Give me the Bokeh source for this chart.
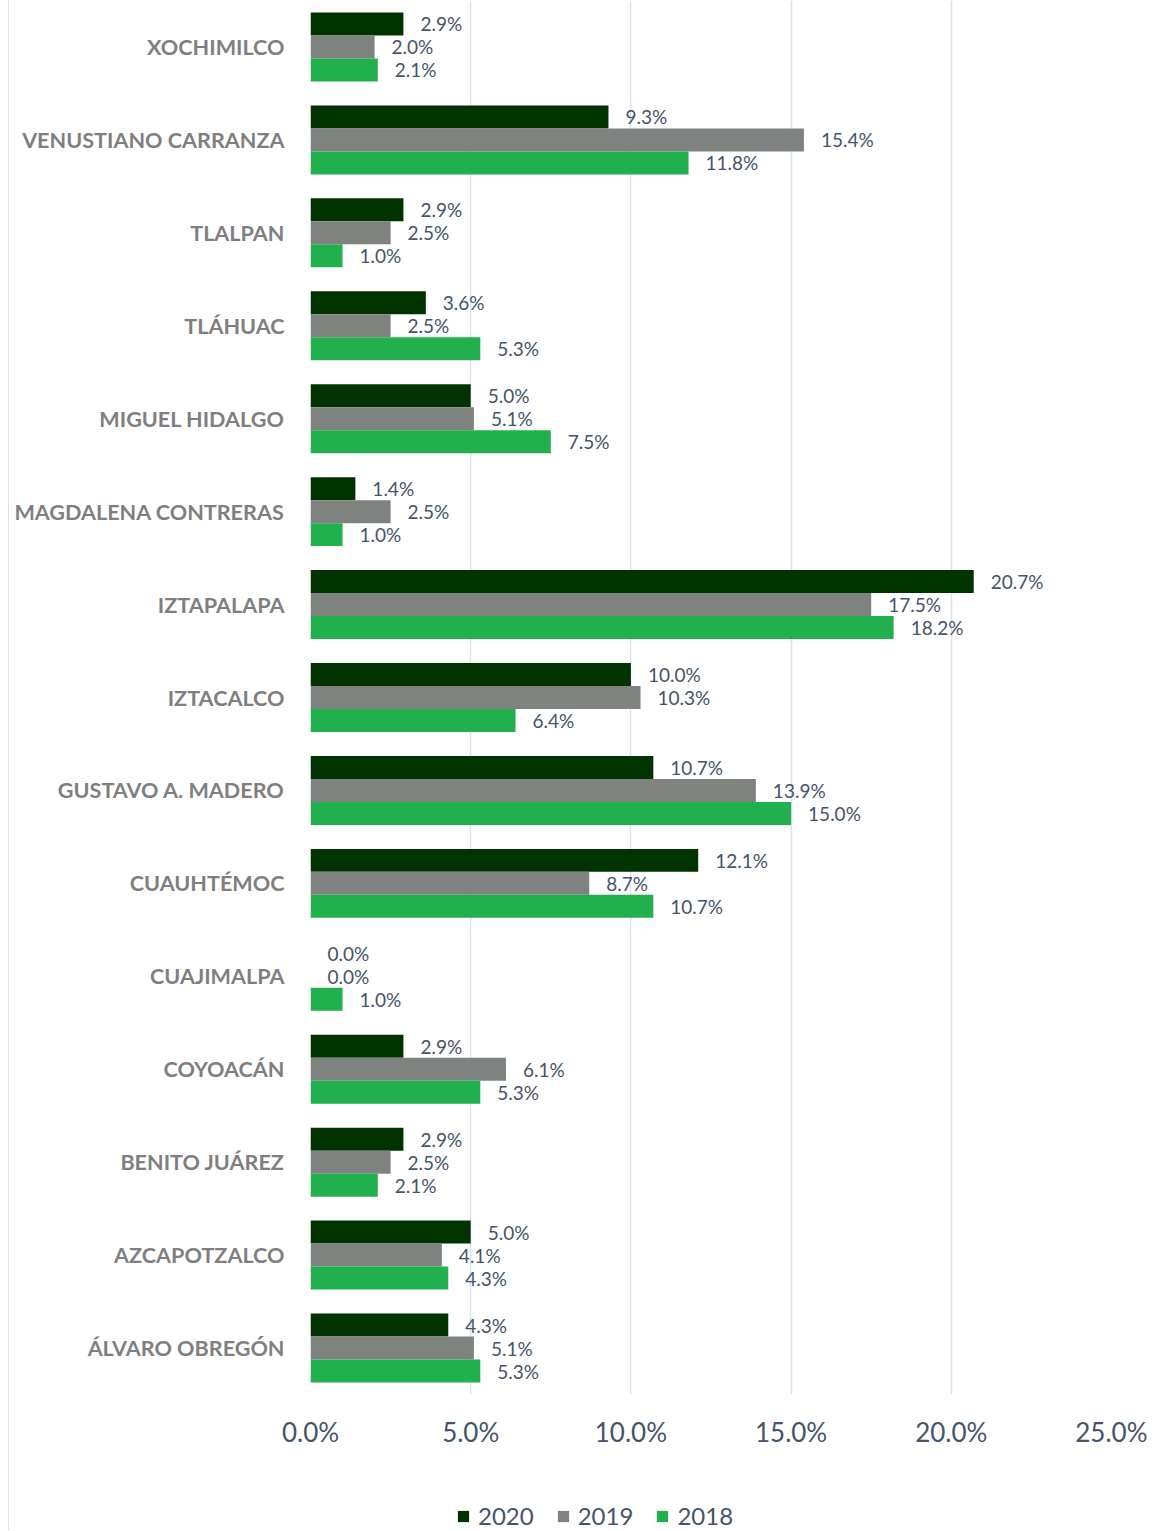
from bokeh.plotting import figure
from bokeh.layouts import column
from bokeh.models import Range1d, FixedTicker, Legend, LegendItem
from bokeh.core.properties import value
from bokeh.embed import file_html
from bokeh.resources import INLINE

categories = ["XOCHIMILCO", "VENUSTIANO CARRANZA", "TLALPAN", "TLÁHUAC", "MIGUEL HIDALGO",
              "MAGDALENA CONTRERAS", "IZTAPALAPA", "IZTACALCO", "GUSTAVO A. MADERO",
              "CUAUHTÉMOC", "CUAJIMALPA", "COYOACÁN", "BENITO JUÁREZ", "AZCAPOTZALCO",
              "ÁLVARO OBREGÓN"]
years = ["2020", "2019", "2018"]
v2020 = [2.9, 9.3, 2.9, 3.6, 5.0, 1.4, 20.7, 10.0, 10.7, 12.1, 0.0, 2.9, 2.9, 5.0, 4.3]
v2019 = [2.0, 15.4, 2.5, 2.5, 5.1, 2.5, 17.5, 10.3, 13.9, 8.7, 0.0, 6.1, 2.5, 4.1, 5.1]
v2018 = [2.1, 11.8, 1.0, 5.3, 7.5, 1.0, 18.2, 6.4, 15.0, 10.7, 1.0, 5.3, 2.1, 4.3, 5.3]
x_ticks = [0, 5, 10, 15, 20, 25]
x_tick_labels = ["0.0%", "5.0%", "10.0%", "15.0%", "20.0%", "25.0%"]

colors = {"2020": "#013301", "2019": "#7f8380", "2018": "#22b04e"}
series = {"2020": v2020, "2019": v2019, "2018": v2018}
offsets = {"2020": -0.2474, "2019": 0.0, "2018": 0.2474}

FONT = "Lato"
TEXT_COLOR = "#44546a"
n = len(categories)

p = figure(width=1138, height=1460, output_backend="svg", toolbar_location=None,
           x_range=Range1d(0, 25), y_range=Range1d(n - 0.5, -0.5),
           min_border_left=301, min_border_right=36, min_border_top=0,
           min_border_bottom=66)
p.outline_line_color = None
p.background_fill_color = "white"
p.border_fill_color = "white"

for yr in years:
    vals = series[yr]
    ys = [i + offsets[yr] for i in range(n)]
    p.hbar(y=ys, right=vals, left=0, height=0.2474, fill_color=colors[yr],
           line_color=None)
    p.text(x=vals, y=ys, text=[f"{v:.1f}%" for v in vals], x_offset=17,
           text_baseline="middle", text_align="left", text_font=value(FONT),
           text_font_size="19px", text_color=TEXT_COLOR)

# y axis (categories)
p.yaxis.ticker = FixedTicker(ticks=list(range(n)))
p.yaxis.major_label_overrides = {i: c for i, c in enumerate(categories)}
p.yaxis.axis_line_color = None
p.yaxis.major_tick_line_color = None
p.yaxis.minor_tick_line_color = None
p.yaxis.major_tick_out = 0
p.yaxis.major_tick_in = 0
p.yaxis.minor_tick_out = 0
p.yaxis.major_label_standoff = 26
p.yaxis.major_label_text_font = FONT
p.yaxis.major_label_text_font_style = "bold"
p.yaxis.major_label_text_font_size = "21.6px"
p.yaxis.major_label_text_color = "#7f7f7f"

# x axis
p.xaxis.ticker = FixedTicker(ticks=x_ticks)
p.xaxis.major_label_overrides = {t: l for t, l in zip(x_ticks, x_tick_labels)}
p.xaxis.axis_line_color = None
p.xaxis.major_tick_line_color = None
p.xaxis.minor_tick_line_color = None
p.xaxis.major_tick_out = 0
p.xaxis.major_tick_in = 0
p.xaxis.minor_tick_out = 0
p.xaxis.major_label_standoff = 21
p.xaxis.major_label_text_font = FONT
p.xaxis.major_label_text_font_size = "26px"
p.xaxis.major_label_text_color = TEXT_COLOR

p.xgrid.ticker = FixedTicker(ticks=x_ticks)
p.xgrid.grid_line_color = "#d9e1f2"
p.xgrid.grid_line_width = 1.5
p.ygrid.grid_line_color = None

# legend strip below the chart (its frame is aligned with the chart's frame)
lg = figure(width=1138, height=70, output_backend="svg", toolbar_location=None,
            x_range=Range1d(0, 1), y_range=Range1d(0, 1),
            min_border_left=0, min_border_right=0, min_border_top=0,
            min_border_bottom=0, x_axis_location=None, y_axis_location=None)
lg.outline_line_color = None
lg.xgrid.visible = False
lg.ygrid.visible = False
items = []
for yr in years:
    r = lg.hbar(y=[-10], right=[0.5], left=0, height=0.5, fill_color=colors[yr],
                line_color=None)
    items.append(LegendItem(label=yr, renderers=[r]))
legend = Legend(items=items, orientation="horizontal", location=(146, 0),
                glyph_width=14, glyph_height=14, label_standoff=8, spacing=22,
                padding=0, margin=0, border_line_color=None,
                background_fill_alpha=0,
                label_text_font=FONT, label_text_font_size="24px",
                label_text_color=TEXT_COLOR)
lg.add_layout(legend, "center")

layout = column(p, lg, spacing=0)
layout.styles = {"margin-left": "8px", "border-left": "1px solid #dde1e8"}

open("out.html", "w").write(file_html(layout, INLINE))
